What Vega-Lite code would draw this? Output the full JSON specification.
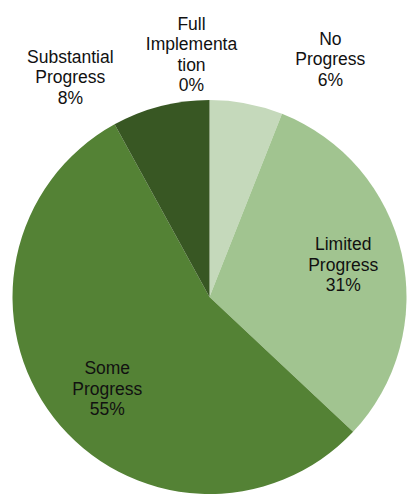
{
  "$schema": "https://vega.github.io/schema/vega-lite/v6.json",
  "width": 395,
  "height": 396,
  "autosize": {"type": "none"},
  "padding": {"left": 12, "top": 99, "right": 0, "bottom": 0},
  "background": "white",
  "view": {"stroke": null},
  "data": {
    "values": [
      {"category": "No Progress", "rank": 1, "value": 6, "label": "No\nProgress\n6%"},
      {"category": "Limited Progress", "rank": 2, "value": 31, "label": "Limited\nProgress\n31%"},
      {"category": "Some Progress", "rank": 3, "value": 55, "label": "Some\nProgress\n55%"},
      {"category": "Substantial Progress", "rank": 4, "value": 8, "label": "Substantial\nProgress\n8%"},
      {"category": "Full Implementation", "rank": 5, "value": 0, "label": "Full\nImplementa\ntion\n0%"}
    ]
  },
  "encoding": {
    "theta": {"field": "value", "type": "quantitative", "stack": true, "scale": {"domain": [0, 100]}},
    "order": {"field": "rank", "type": "quantitative"},
    "detail": {"field": "category", "type": "nominal"}
  },
  "config": {
    "text": {"font": "Liberation Sans", "fontSize": 17.5, "lineHeight": 20.5, "fill": "#111111", "align": "center", "baseline": "middle", "lineBreak": "\n"}
  },
  "layer": [
    {
      "mark": {"type": "arc", "outerRadius": 197},
      "encoding": {
        "color": {
          "field": "category",
          "type": "nominal",
          "scale": {
            "domain": ["No Progress", "Limited Progress", "Some Progress", "Substantial Progress", "Full Implementation"],
            "range": ["#c5d9bb", "#a1c490", "#548235", "#385723", "#2a431a"]
          },
          "legend": null
        }
      }
    },
    {
      "mark": {"type": "text", "radius": 137, "dx": 0, "dy": -22},
      "encoding": {"text": {"condition": {"test": "datum.category === 'Limited Progress'", "field": "label"}, "value": ""}}
    },
    {
      "mark": {"type": "text", "radius": 137, "dx": 6, "dy": -11.5},
      "encoding": {"text": {"condition": {"test": "datum.category === 'Some Progress'", "field": "label"}, "value": ""}}
    },
    {
      "mark": {"type": "text", "radius": 250, "dx": 74, "dy": -11.5},
      "encoding": {"text": {"condition": {"test": "datum.category === 'No Progress'", "field": "label"}, "value": ""}}
    },
    {
      "mark": {"type": "text", "radius": 250, "dx": -18, "dy": -22.5},
      "encoding": {"text": {"condition": {"test": "datum.category === 'Full Implementation'", "field": "label"}, "value": ""}}
    },
    {
      "mark": {"type": "text", "radius": 250, "dx": -77, "dy": 3},
      "encoding": {"text": {"condition": {"test": "datum.category === 'Substantial Progress'", "field": "label"}, "value": ""}}
    }
  ]
}
